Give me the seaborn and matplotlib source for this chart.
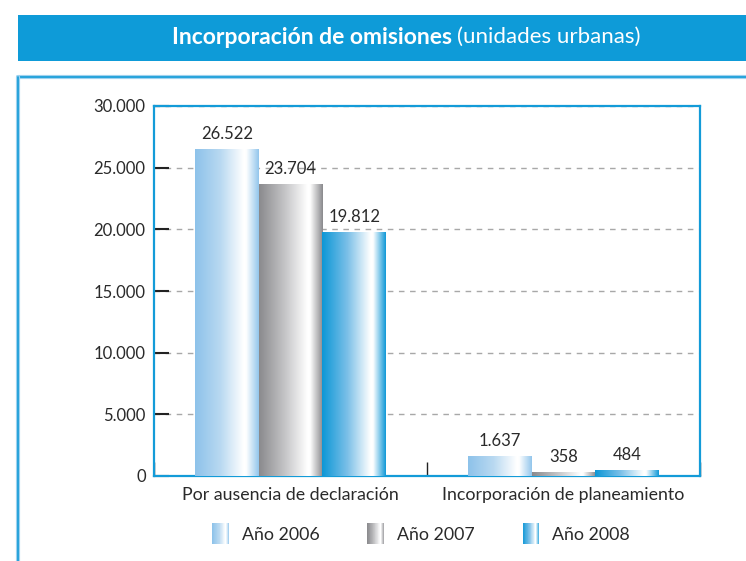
import numpy as np
import pandas as pd
import matplotlib
matplotlib.use("Agg")
import matplotlib.pyplot as plt
import seaborn as sns
from matplotlib.patches import Rectangle
from matplotlib.legend_handler import HandlerBase
from matplotlib.colors import LinearSegmentedColormap

# --- data ---------------------------------------------------------------
categories = ["Por ausencia de declaración", "Incorporación de planeamiento"]
years = ["Año 2006", "Año 2007", "Año 2008"]
values_2006 = [26522, 1637]
values_2007 = [23704, 358]
values_2008 = [19812, 484]
y_ticks = [0, 5000, 10000, 15000, 20000, 25000, 30000]

df = pd.DataFrame({
    "categoria": categories * 3,
    "anio": [years[0]] * 2 + [years[1]] * 2 + [years[2]] * 2,
    "valor": values_2006 + values_2007 + values_2008,
})

# --- style ----------------------------------------------------------------
sns.set_theme(style="white")
plt.rcParams["font.family"] = ["Lato", "DejaVu Sans"]
TXT = "#2a2a2a"
BLUE = "#139bd8"

gradients = {
    "Año 2006": ["#8dc2ea", "#b9d9f1", "#ffffff", "#ffffff", "#93c6ec"],
    "Año 2007": ["#8a8a8d", "#c4c4c6", "#ffffff", "#ffffff", "#8a8a8d"],
    "Año 2008": ["#0c97d6", "#7cc0e8", "#ffffff", "#ffffff", "#1199d7"],
}
stops = [0.0, 0.4, 0.76, 0.8, 1.0]
cmaps = {k: LinearSegmentedColormap.from_list(k, list(zip(stops, v)))
         for k, v in gradients.items()}
solid = {k: v[0] for k, v in gradients.items()}

W, H = 746, 561
fig = plt.figure(figsize=(W / 100, H / 100), dpi=100)

def fx(px):
    return px / W

def fy(py):
    return 1 - py / H

# header band
fig.patches.append(Rectangle((fx(18), fy(61)), fx(746) - fx(18), fy(15) - fy(61),
                             transform=fig.transFigure, facecolor="#0e9bd8",
                             edgecolor="none", zorder=0))
fig.text(fx(452), fy(37), "Incorporación de omisiones", color="white",
         fontsize=16.5, fontweight="bold", ha="right", va="center")
fig.text(fx(457), fy(37), "(unidades urbanas)", color="white",
         fontsize=16, ha="left", va="center")

# outer frame lines
for xs, ys in (([18, 746], [77, 77]), ([18, 18], [77, 561])):
    fig.add_artist(plt.Line2D([fx(v) for v in xs], [fy(v) for v in ys],
                              color="#9fd2ef", lw=3.0, transform=fig.transFigure))
    fig.add_artist(plt.Line2D([fx(v) for v in xs], [fy(v) for v in ys],
                              color=BLUE, lw=1.2, transform=fig.transFigure))

# plot area
ax = fig.add_axes([fx(154), fy(476), fx(700) - fx(154), fy(106) - fy(476)])
sns.barplot(data=df, x="categoria", y="valor", hue="anio", hue_order=years,
            order=categories, palette=solid, width=0.7, gap=0, ax=ax,
            legend=False, errorbar=None, saturation=1, linewidth=0, zorder=3)

ax.set_ylim(0, 30000)
ax.set_xlim(-0.5, 1.5)
ax.set_yticks(y_ticks)
ax.set_yticklabels([f"{v:,}".replace(",", ".") for v in y_ticks],
                   fontsize=12, color=TXT)
ax.set_xticks(range(len(categories)))
ax.set_xticklabels(categories, fontsize=12.8, color=TXT)
ax.set_xticks([-0.5, 0.5, 1.5], minor=True)
ax.tick_params(axis="x", which="major", length=0, pad=8, bottom=True)
ax.tick_params(axis="x", which="minor", direction="in", length=10, width=1,
               color="#222222", bottom=True)
ax.tick_params(axis="y", direction="in", length=11, width=1.5, color="#222222",
               pad=6, left=True)
ax.set_xlabel("")
ax.set_ylabel("")
ax.yaxis.grid(True, linestyle=(0, (4, 4)), color="#a8a8a8", lw=1)
ax.set_axisbelow(True)
for s in ax.spines.values():
    s.set_color(BLUE)
    s.set_linewidth(1.6)
    s.set_visible(True)

# gradient fills clipped to each bar
grad = np.linspace(0, 1, 256).reshape(1, -1)
for cont, yr in zip(ax.containers, years):
    for bar in cont:
        x0, y0 = bar.get_x(), bar.get_y()
        w, h = bar.get_width(), bar.get_height()
        im = ax.imshow(grad, cmap=cmaps[yr], aspect="auto",
                       extent=[x0, x0 + w, y0, y0 + h], zorder=3.5,
                       interpolation="bilinear")
        im.set_clip_path(bar)
    ax.bar_label(cont, labels=[f"{int(v):,}".replace(",", ".")
                               for v in cont.datavalues],
                 padding=5, fontsize=12, color=TXT, zorder=5)
ax.set_xlim(-0.5, 1.5)
ax.set_ylim(0, 30000)


# legend with gradient swatches
class GradientHandler(HandlerBase):
    def __init__(self, cmap):
        super().__init__()
        self.cmap = cmap

    def create_artists(self, legend, orig_handle, xdescent, ydescent,
                       width, height, fontsize, trans):
        n = 40
        arts = []
        for i in range(n):
            arts.append(Rectangle((-xdescent + width * i / n, -ydescent - 3),
                                  width / n * 1.05, height + 6,
                                  facecolor=self.cmap((i + 0.5) / n),
                                  edgecolor="none", transform=trans))
        return arts


handles = [cont.patches[0] for cont in ax.containers]
hmap = {h: GradientHandler(cmaps[yr]) for h, yr in zip(handles, years)}
leg = fig.legend(handles, years, handler_map=hmap, ncol=3,
                 loc="center", bbox_to_anchor=(fx(421), fy(535)),
                 frameon=False, fontsize=12.8, handlelength=0.95,
                 handleheight=0.75, handletextpad=0.7, columnspacing=2.7)
for t in leg.get_texts():
    t.set_color(TXT)

fig.savefig("out.png", dpi=100)
